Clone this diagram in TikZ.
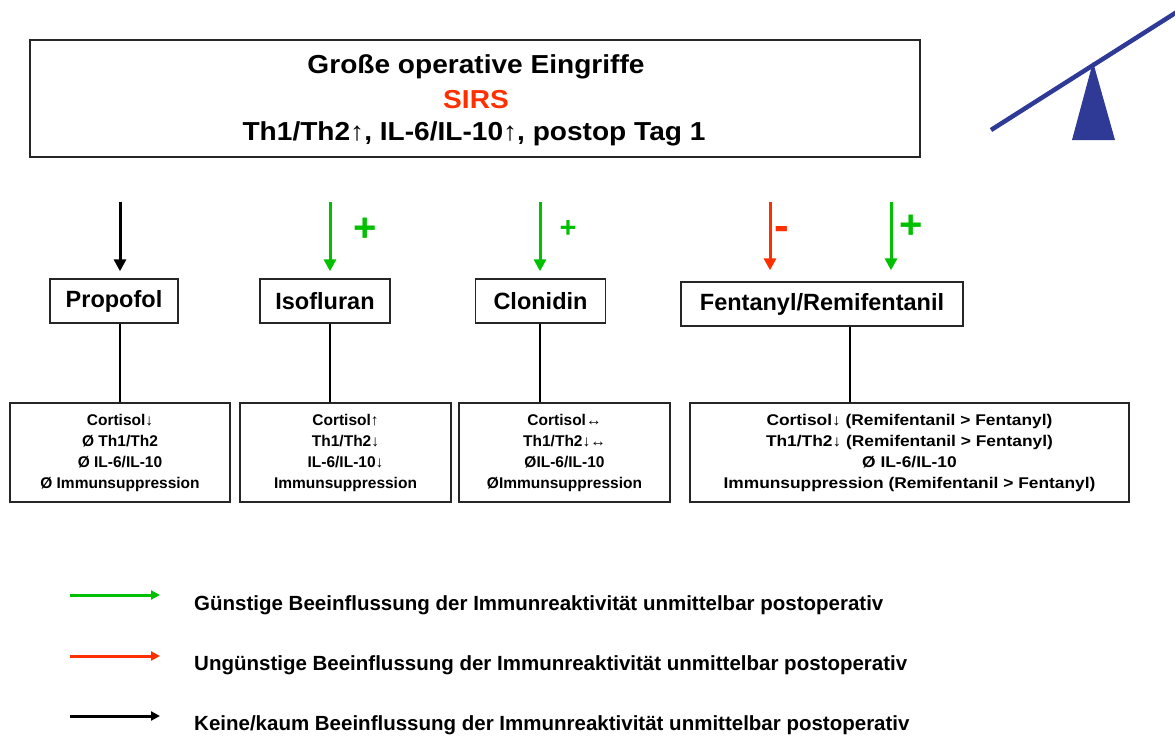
\documentclass[tikz,border=0pt]{standalone}
\usepackage{fontspec}
\setmainfont{Liberation Sans}
\newfontfamily\widefont[FakeStretch=1.08]{Liberation Sans}
\newfontfamily\wideboxfont[FakeStretch=1.12]{Liberation Sans}
\usetikzlibrary{arrows.meta}
\definecolor{plusgreen}{RGB}{0,192,0}
\definecolor{minusred}{RGB}{255,48,0}
\definecolor{seesaw}{RGB}{46,58,150}
\tikzset{
  box/.style={draw=black!85,line width=1.4pt,inner sep=0pt,align=center,font=\bfseries},
  headtext/.style={inner sep=0pt,font=\widefont\fontsize{26}{30}\selectfont\bfseries},
  head/.style={box,font=\fontsize{23.5}{26}\selectfont\bfseries},
  effect/.style={box,font=\fontsize{15.5}{21}\selectfont\bfseries},
  arr/.style={line width=3pt,-{Triangle[length=12pt,width=12pt]}},
  legarr/.style={line width=3pt,-{Triangle[length=9pt,width=9pt]}},
  conn/.style={line width=2pt},
  sign/.style={font=\fontsize{40}{40}\selectfont\bfseries,inner sep=0pt},
  legend/.style={anchor=west,inner sep=0pt,font=\fontsize{20.5}{22}\selectfont\bfseries},
}
\begin{document}
\begin{tikzpicture}[x=1pt,y=-1pt]
\useasboundingbox (0,0) rectangle (1175,740);
% top box
\node[box,minimum width=890pt,minimum height=117pt] (top) at (475,98.5) {};
\node[headtext] (t1) at (476,67) {Große operative Eingriffe};
\node[headtext,text=minusred] (t2) at (476,100) {SIRS};
\node[headtext] (t3) at (474,134) {Th1/Th2↑, IL-6/IL-10↑, postop Tag 1};
% seesaw
\fill[seesaw] (1093,62) -- (1115,140) -- (1072,140) -- cycle;
\draw[seesaw,line width=4.5pt] (991,130) -- (1180,10);
% drug boxes
\node[head,minimum width=128pt,minimum height=44pt] (prop) at (114,301) {Propofol};
\node[head,minimum width=130pt,minimum height=44pt] (iso) at (325,301) {Isofluran};
\node[head,minimum width=130pt,minimum height=44pt] (clo) at (540.5,301) {Clonidin};
\node[head,minimum width=282pt,minimum height=44pt] (fent) at (822,304) {Fentanyl/Remifentanil};
% arrow starts
\coordinate (s1) at (120,202);
\coordinate (s2) at (330,202);
\coordinate (s3) at (540,202);
\coordinate (s4) at (770,202);
\coordinate (s5) at (891,202);
\coordinate (f1) at (850,330);
\draw[arr,black,shorten >=7pt] (s1) -- (s1 |- prop.north);
\draw[arr,plusgreen,shorten >=7pt] (s2) -- (s2 |- iso.north);
\draw[arr,plusgreen,shorten >=7pt] (s3) -- (s3 |- clo.north);
\draw[arr,minusred,shorten >=11pt] (s4) -- (s4 |- fent.north);
\draw[arr,plusgreen,shorten >=11pt] (s5) -- (s5 |- fent.north);
\node[sign,text=plusgreen] (p2) at (365.5,230) {+};
\node[sign,text=plusgreen,font=\fontsize{29}{29}\selectfont\bfseries] (p3) at (568,229) {+};
\node[sign,text=minusred,font=\fontsize{44}{44}\selectfont\bfseries] (m4) at (782,233) {-};
\node[sign,text=plusgreen] (p5) at (911.5,227) {+};
% effect boxes
\node[effect,minimum width=220pt,minimum height=99pt] (e1) at (120,452.5) {Cortisol↓\\Ø Th1/Th2\\Ø IL-6/IL-10\\Ø Immunsuppression};
\node[effect,minimum width=211pt,minimum height=99pt] (e2) at (345.5,452.5) {Cortisol↑\\Th1/Th2↓\\IL-6/IL-10↓\\Immunsuppression};
\node[effect,minimum width=211pt,minimum height=99pt] (e3) at (564.5,452.5) {Cortisol↔\\Th1/Th2↓↔\\ØIL-6/IL-10\\ØImmunsuppression};
\node[effect,font=\wideboxfont\fontsize{15.5}{21}\selectfont\bfseries,minimum width=439pt,minimum height=99pt] (e4) at (909.5,452.5) {Cortisol↓ (Remifentanil > Fentanyl)\\Th1/Th2↓ (Remifentanil > Fentanyl)\\Ø IL-6/IL-10\\Immunsuppression (Remifentanil > Fentanyl)};
\draw[conn] (prop.south -| s1) -- (e1.north -| s1);
\draw[conn] (iso.south -| s2) -- (e2.north -| s2);
\draw[conn] (clo.south -| s3) -- (e3.north -| s3);
\draw[conn] (fent.south -| f1) -- (e4.north -| f1);
% legend
\coordinate (g1) at (70,595); \coordinate (g2) at (160,595);
\coordinate (r1) at (70,656); \coordinate (r2) at (160,656);
\coordinate (k1) at (70,716); \coordinate (k2) at (160,716);
\draw[legarr,plusgreen] (g1) -- (g2);
\draw[legarr,minusred] (r1) -- (r2);
\draw[legarr,black] (k1) -- (k2);
\node[legend] (lg) at (194,605) {Günstige Beeinflussung der Immunreaktivität unmittelbar postoperativ};
\node[legend] (lr) at (194,665) {Ungünstige Beeinflussung der Immunreaktivität unmittelbar postoperativ};
\node[legend] (lk) at (194,725) {Keine/kaum Beeinflussung der Immunreaktivität unmittelbar postoperativ};
\end{tikzpicture}
\end{document}
